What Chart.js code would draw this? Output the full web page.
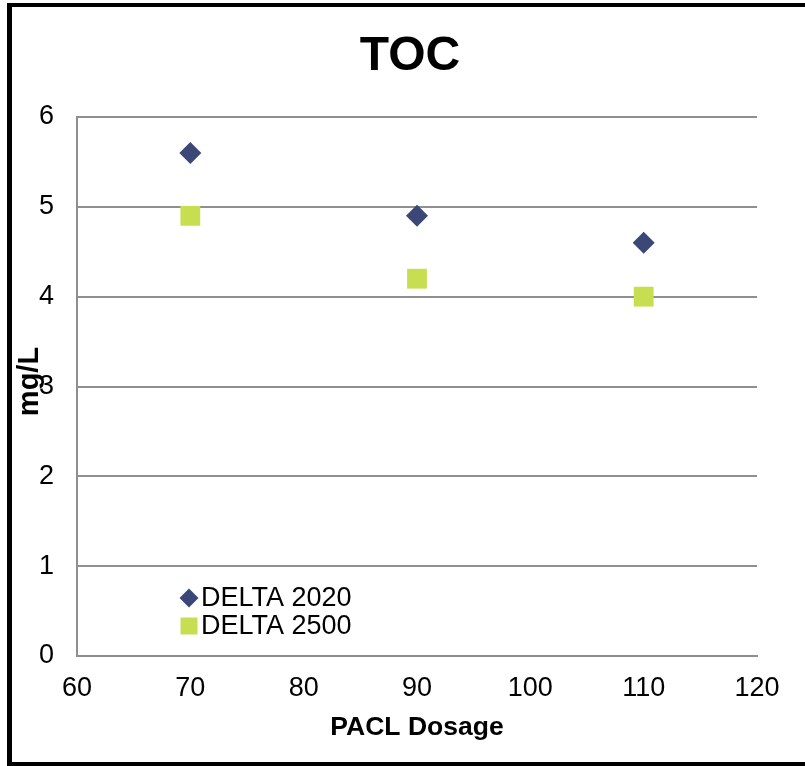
<!DOCTYPE html>
<html lang="en">
  <head>
    <meta charset="UTF-8" />
    <title>TOC</title>
    <style>
      * {
        margin: 0;
        padding: 0;
        box-sizing: border-box;
      }
      body {
        width: 805px;
        height: 766px;
        overflow: hidden;
        background: #fff;
        position: relative;
      }
      .frame {
        position: absolute;
        left: 7px;
        top: 3px;
        width: 820px;
        height: 763px;
        border-left: 5px solid #000;
        border-top: 4px solid #000;
        border-bottom: 4px solid #000;
        pointer-events: none;
      }
      .wrap {
        position: absolute;
        left: 0;
        top: 0;
        width: 805px;
        height: 766px;
      }
    </style>
  </head>
  <body>
    <div class="wrap"><canvas id="chart" width="805" height="766"></canvas></div>
    <div class="frame"></div>

    <script src="https://cdn.jsdelivr.net/npm/chart.js"></script>
    <script>
      const FONT = '"Liberation Sans", Arial, sans-serif';

      const dosage = [70, 90, 110];
      const delta2020 = [5.6, 4.9, 4.6];
      const delta2500 = [4.9, 4.2, 4.0];
      const xTicks = [60, 70, 80, 90, 100, 110, 120];
      const yTicks = [0, 1, 2, 3, 4, 5, 6];

      const navy = "#3b4877";
      const lime = "#c6de50";
      const gridGray = "#8f8f8f";

      function pairs(ys) {
        return dosage.map((x, i) => ({ x: x, y: ys[i] }));
      }

      // title, rotated y title and the in-plot legend
      const extras = {
        id: "extras",
        afterDraw(chart) {
          const ctx = chart.ctx;
          const area = chart.chartArea;
          ctx.save();
          ctx.fillStyle = "#000";
          ctx.textAlign = "center";
          ctx.textBaseline = "alphabetic";
          ctx.font = "bold 48px " + FONT;
          ctx.fillText("TOC", 410, 70);

          ctx.save();
          ctx.translate(30, (area.top + area.bottom) / 2 - 5);
          ctx.rotate(-Math.PI / 2);
          ctx.textBaseline = "middle";
          ctx.font = "bold 29px " + FONT;
          ctx.fillText("mg/L", 0, 0);
          ctx.restore();

          const rows = [598, 626];
          chart.data.datasets.forEach((ds, i) => {
            ctx.fillStyle = ds.backgroundColor;
            Chart.helpers.drawPoint(
              ctx,
              { pointStyle: ds.pointStyle, radius: ds.legendRadius, rotation: 0, borderWidth: 0 },
              189,
              rows[i]
            );
            ctx.fillStyle = "#000";
            ctx.textAlign = "left";
            ctx.textBaseline = "middle";
            ctx.font = "27px " + FONT;
            ctx.fillText(ds.label, 201, rows[i] + 1);
          });
          ctx.restore();
        },
      };

      new Chart(document.getElementById("chart").getContext("2d"), {
        type: "scatter",
        data: {
          datasets: [
            {
              label: "DELTA 2020",
              data: pairs(delta2020),
              pointStyle: "rectRot",
              pointRadius: 11,
              legendRadius: 9.5,
              backgroundColor: navy,
              borderColor: navy,
              borderWidth: 0,
            },
            {
              label: "DELTA 2500",
              data: pairs(delta2500),
              pointStyle: "rect",
              pointRadius: 14,
              legendRadius: 12,
              backgroundColor: lime,
              borderColor: lime,
              borderWidth: 0,
            },
          ],
        },
        options: {
          responsive: false,
          animation: false,
          layout: { padding: { left: 0, right: 48, top: 117, bottom: 10 } },
          plugins: {
            legend: { display: false },
            title: { display: false },
            tooltip: { enabled: false },
          },
          scales: {
            x: {
              type: "linear",
              min: xTicks[0],
              max: xTicks[xTicks.length - 1],
              afterBuildTicks(scale) {
                scale.ticks = xTicks.map((v) => ({ value: v }));
              },
              afterFit(scale) {
                scale.height = 100;
              },
              grid: { display: false, drawTicks: false },
              border: { display: true, color: gridGray, width: 2 },
              ticks: {
                color: "#000",
                padding: 16,
                font: { family: FONT, size: 27 },
              },
              title: {
                display: true,
                text: "PACL Dosage",
                color: "#000",
                font: { family: FONT, size: 26.5, weight: "bold" },
                padding: { top: 0, bottom: 12 },
              },
            },
            y: {
              min: yTicks[0],
              max: yTicks[yTicks.length - 1],
              afterBuildTicks(scale) {
                scale.ticks = yTicks.map((v) => ({ value: v }));
              },
              afterFit(scale) {
                scale.width = 77;
              },
              grid: { color: gridGray, lineWidth: 2, drawTicks: false },
              border: { display: true, color: gridGray, width: 2 },
              ticks: {
                color: "#000",
                padding: 23,
                font: { family: FONT, size: 27 },
              },
            },
          },
        },
        plugins: [extras],
      });
    </script>
  </body>
</html>
